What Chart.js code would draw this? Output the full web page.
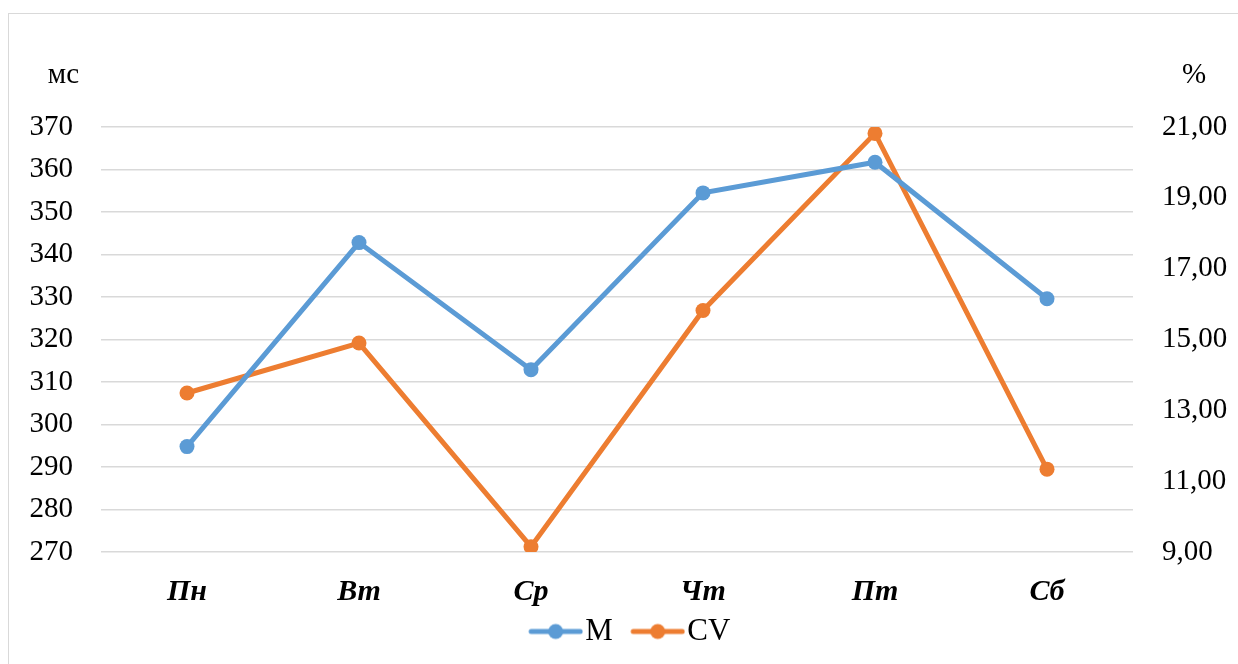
<!DOCTYPE html>
<html>
<head>
<meta charset="utf-8">
<script src="https://cdn.jsdelivr.net/npm/chart.js@4/dist/chart.umd.min.js"></script>
<style>
  html, body { margin: 0; padding: 0; background: #fff; overflow: hidden; }
  #frame { position: absolute; left: 8px; top: 13px; width: 1300px; height: 700px; border: 1px solid #d9d9d9; box-sizing: border-box; }
  #wrap { position: absolute; left: 0; top: 0; width: 1238px; height: 664px; }
</style>
</head>
<body>
<div id="frame"></div>
<div id="wrap"><canvas id="c" width="1238" height="664"></canvas></div>
<script>
// Days of the week
const categories = ['Пн', 'Вт', 'Ср', 'Чт', 'Пт', 'Сб'];
// Mean response time, ms
const mValues = [294.8, 342.8, 312.9, 354.5, 361.7, 329.6];
// Coefficient of variation, %
const cvValues = [13.49, 14.9, 9.15, 15.82, 20.82, 11.34];
// Axis ranges
const msTicks = { min: 270, max: 370, step: 10 };
const pctTicks = { min: 9, max: 21, step: 2 };
const msTitle = 'мс';
const pctTitle = '%';

const BLUE = '#5B9BD5';
const ORANGE = '#ED7D31';
const FONT = "'Liberation Serif', 'Times New Roman', serif";
const FS = 29;
const LEGEND_FS = 31;
const SWATCH_W = 81;

// Legend swatch: line with a round marker, sitting at the right of a transparent strip
function swatch(color) {
  const c = document.createElement('canvas');
  c.width = SWATCH_W; c.height = 18;
  const g = c.getContext('2d');
  const x0 = SWATCH_W - 52, x1 = SWATCH_W - 3;
  g.strokeStyle = color; g.lineWidth = 5; g.lineCap = 'round';
  g.beginPath(); g.moveTo(x0, 9); g.lineTo(x1, 9); g.stroke();
  g.fillStyle = color;
  g.beginPath(); g.arc((x0 + x1) / 2, 9, 7.5, 0, Math.PI * 2); g.fill();
  return c;
}

const axisTitles = {
  id: 'axisTitles',
  afterLayout(chart) {
    // nudge the legend row slightly to the right
    if (chart.legend) { chart.legend.left += 4; chart.legend.right += 4; }
  },
  afterDraw(chart) {
    const { ctx, chartArea } = chart;
    ctx.save();
    ctx.font = FS + 'px ' + FONT;
    ctx.fillStyle = '#000';
    ctx.textBaseline = 'middle';
    ctx.textAlign = 'right';
    ctx.fillText(msTitle, chartArea.left - 22, chartArea.top - 52);
    ctx.textAlign = 'center';
    ctx.fillText(pctTitle, chartArea.right + 61, chartArea.top - 52);
    ctx.restore();
  }
};

new Chart(document.getElementById('c'), {
  type: 'line',
  data: {
    labels: categories,
    datasets: [
      {
        label: 'M', data: mValues, yAxisID: 'y',
        borderColor: BLUE, backgroundColor: BLUE, borderWidth: 5,
        pointRadius: 7.5, pointBackgroundColor: BLUE, pointBorderWidth: 0,
        pointStyle: 'circle', tension: 0
      },
      {
        label: 'CV', data: cvValues, yAxisID: 'y1',
        borderColor: ORANGE, backgroundColor: ORANGE, borderWidth: 5,
        pointRadius: 7.5, pointBackgroundColor: ORANGE, pointBorderWidth: 0,
        pointStyle: 'circle', tension: 0
      }
    ]
  },
  options: {
    responsive: false,
    animation: false,
    devicePixelRatio: 1,
    layout: { padding: { top: 127, bottom: 7, left: 0, right: 0 } },
    plugins: {
      tooltip: { enabled: false },
      legend: {
        position: 'bottom',
        labels: {
          font: { family: FONT, size: LEGEND_FS },
          color: '#000',
          usePointStyle: true,
          pointStyleWidth: 54,
          padding: 5,
          generateLabels(chart) {
            return chart.data.datasets.map((ds, i) => ({
              text: ds.label, pointStyle: swatch(ds.borderColor),
              fillStyle: ds.borderColor, strokeStyle: ds.borderColor,
              lineWidth: 0, hidden: false, datasetIndex: i, fontColor: '#000'
            }));
          }
        }
      }
    },
    scales: {
      x: {
        offset: true,
        afterFit(s) { s.height = 59; },
        grid: { display: false, drawTicks: false },
        border: { display: false },
        ticks: { font: { family: FONT, size: 30, weight: 'bold', style: 'italic' }, color: '#000', padding: 22 }
      },
      y: {
        position: 'left',
        min: msTicks.min, max: msTicks.max,
        afterFit(s) { s.width = 101; },
        grid: { color: '#d9d9d9', lineWidth: 1.5, drawTicks: false },
        border: { display: false },
        ticks: { stepSize: msTicks.step, font: { family: FONT, size: FS }, color: '#000', padding: 28 }
      },
      y1: {
        position: 'right',
        min: pctTicks.min, max: pctTicks.max,
        afterFit(s) { s.width = 105; },
        grid: { display: false, drawTicks: false },
        border: { display: false },
        ticks: {
          stepSize: pctTicks.step, font: { family: FONT, size: FS }, color: '#000', padding: 29,
          callback: v => v.toFixed(2).replace('.', ',')
        }
      }
    }
  },
  plugins: [axisTitles]
});
</script>
</body>
</html>
